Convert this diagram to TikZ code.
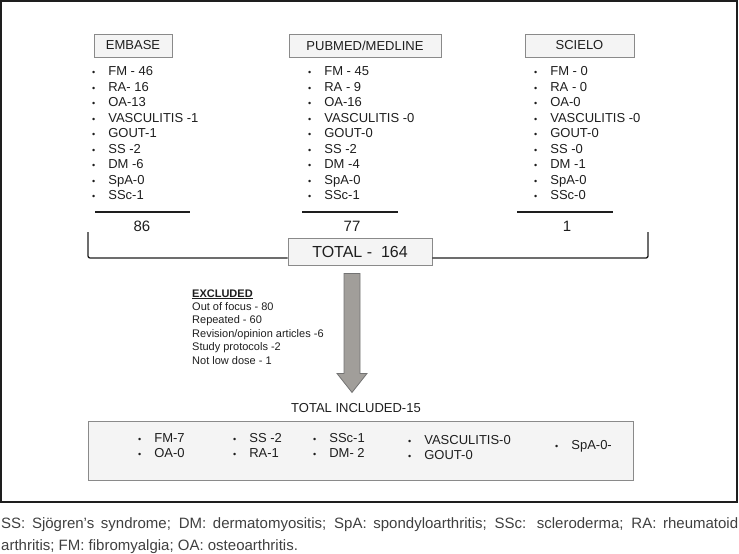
\documentclass[tikz,border=0pt]{standalone}
\usepackage{fontspec}
\setmainfont{Liberation Sans}
\usetikzlibrary{shapes,arrows,shadows}

\definecolor{boxfill}{HTML}{F4F4F4}
\definecolor{boxline}{HTML}{8A8A8A}
\definecolor{arrowfill}{HTML}{A19E9A}
\definecolor{ink}{HTML}{1E1E1E}

\newcommand{\bul}{{\fontsize{9}{9}\selectfont\textbullet}}
\newcommand{\srclist}[1]{\begin{tabular}[t]{@{}l@{\hspace{13pt}}l@{}}#1\end{tabular}}

\begin{document}
\begin{tikzpicture}
[
x=1pt, y=-1pt,
every node/.style={text=ink, inner sep=0pt},
dbname/.style={draw=boxline, fill=boxfill, line width=0.9pt, minimum height=23pt, font=\fontsize{13}{15}\selectfont, drop shadow={shadow xshift=1.2pt, shadow yshift=-1.2pt, fill=black!60}},
items/.style={anchor=base west, font=\fontsize{13}{15.5}\selectfont},
sumline/.style={line width=2.4pt, draw=ink}
]
\tikzset{bigarrow/.style={draw=black!55, fill=arrowfill, line width=0.8pt, line join=miter}}
\useasboundingbox (0,0) rectangle (739,554);

\node[dbname, minimum width=78pt] (embase) at (133,45.5) {EMBASE};
\node[dbname, minimum width=152pt] (pubmed) at (365,45.5) {PUBMED/MEDLINE};
\node[dbname, minimum width=109pt] (scielo) at (579.5,45.5) {SCIELO};

\node[items] (embaselist) at (92,75.5) {\srclist{\bul & FM - 46\\ \bul & RA- 16\\ \bul & OA-13\\ \bul & VASCULITIS -1\\ \bul & GOUT-1\\ \bul & SS -2\\ \bul & DM -6\\ \bul & SpA-0\\ \bul & SSc-1}};
\node[items] (pubmedlist) at (308,75.5) {\srclist{\bul & FM - 45\\ \bul & RA - 9\\ \bul & OA-16\\ \bul & VASCULITIS -0\\ \bul & GOUT-0\\ \bul & SS -2\\ \bul & DM -4\\ \bul & SpA-0\\ \bul & SSc-1}};
\node[items] (scielolist) at (534,75.5) {\srclist{\bul & FM - 0\\ \bul & RA - 0\\ \bul & OA-0\\ \bul & VASCULITIS -0\\ \bul & GOUT-0\\ \bul & SS -0\\ \bul & DM -1\\ \bul & SpA-0\\ \bul & SSc-0}};

\draw[sumline] (95,212) -- (190,212);
\draw[sumline] (302,212) -- (398,212);
\draw[sumline] (517,212) -- (613,212);

\node[font=\fontsize{15}{17}\selectfont] (embasen) at (142,226) {86};
\node[font=\fontsize{15}{17}\selectfont] (pubmedn) at (352,226) {77};
\node[font=\fontsize{15}{17}\selectfont] (scielon) at (567,226) {1};

\node[dbname, minimum width=144pt, minimum height=27pt, font=\fontsize{16}{18}\selectfont] (total) at (360,251.5) {TOTAL -\ \ 164};
\coordinate (bracketl) at (88,232);
\coordinate (bracketr) at (648,232);
\draw[ink, line width=1.3pt, rounded corners=2pt] (bracketl) |- ([yshift=-6.5pt]total.west) ([yshift=-6.5pt]total.east) -| (bracketr);

% block arrow down to the included studies
\draw[bigarrow] ([xshift=-16pt,yshift=-8pt]total.south) -- ++(16,0) -- ++(0,100) -- ++(7,0) -- ++(-15,19) -- ++(-15,-19) -- ++(7,0) -- cycle;

\node[anchor=base west, font=\fontsize{11}{13.4}\selectfont] (excluded) at (192,297) {\begin{tabular}[t]{@{}l@{}}\underline{\textbf{EXCLUDED}}\\ Out of focus - 80\\ Repeated - 60\\ Revision/opinion articles -6\\ Study protocols -2\\ Not low dose - 1\end{tabular}};

\node[font=\fontsize{13}{15}\selectfont] (included) at (356,408) {TOTAL INCLUDED-15};
\node[dbname, minimum width=545pt, minimum height=59pt] (results) at (360.5,450.5) {};
\node[items] (incl1) at (138,442) {\srclist{\bul & FM-7\\ \bul & OA-0}};
\node[items] (incl2) at (233,442) {\srclist{\bul & SS -2\\ \bul & RA-1}};
\node[items] (incl3) at (313,442) {\srclist{\bul & SSc-1\\ \bul & DM- 2}};
\node[items] (incl4) at (408,444) {\srclist{\bul & VASCULITIS-0\\ \bul & GOUT-0}};
\node[items] (incl5) at (555,449) {\srclist{\bul & SpA-0-}};

\draw[ink, line width=1.6pt] (1,1) rectangle (737,502);

\node[anchor=north west, text width=737pt, align=justify, font=\fontsize{15}{22}\selectfont, text=ink!85] (note) at (1,517) {SS: Sjögren’s syndrome; DM: dermatomyositis; SpA: spondyloarthritis; SSc: scleroderma; RA: rheumatoid\linebreak arthritis; FM: fibromyalgia; OA: osteoarthritis.};
\end{tikzpicture}
\end{document}
